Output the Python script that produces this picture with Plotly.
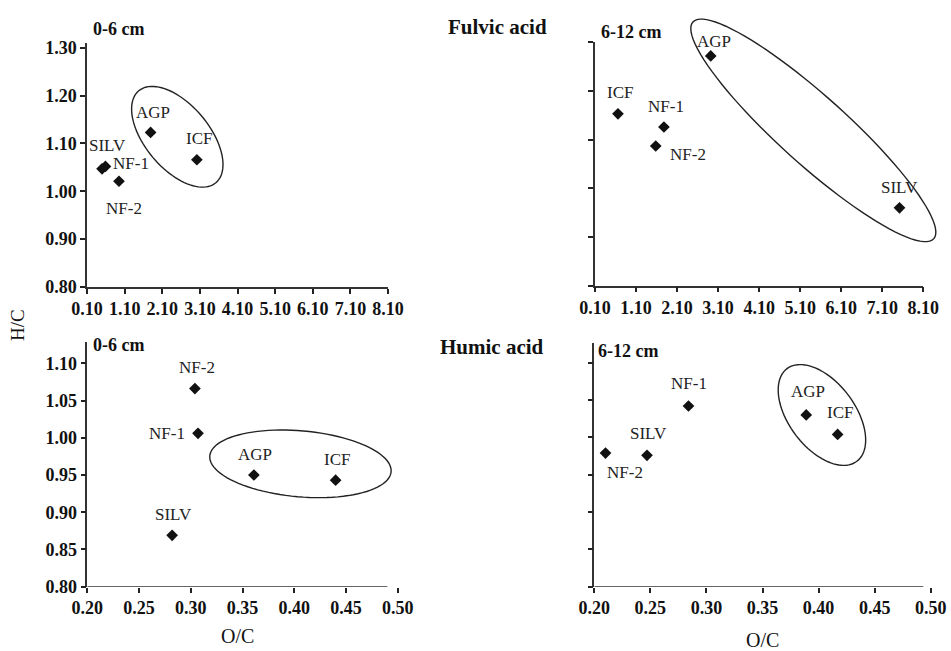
import math
import plotly.graph_objects as go

# ---------------- data ----------------
samples_fa06 = ["AGP", "ICF", "SILV", "NF-1", "NF-2"]
oc_fa06 = [1.79, 3.02, 0.50, 0.59, 0.95]
hc_fa06 = [1.123, 1.066, 1.047, 1.052, 1.021]

samples_fa612 = ["AGP", "ICF", "NF-1", "NF-2", "SILV"]
oc_fa612 = [2.92, 0.66, 1.78, 1.58, 7.52]
hc_fa612 = [1.272, 1.153, 1.126, 1.087, 0.960]

samples_ha06 = ["NF-2", "NF-1", "AGP", "ICF", "SILV"]
oc_ha06 = [0.304, 0.307, 0.361, 0.440, 0.282]
hc_ha06 = [1.066, 1.006, 0.950, 0.943, 0.869]

samples_ha612 = ["NF-1", "AGP", "ICF", "SILV", "NF-2"]
oc_ha612 = [0.284, 0.389, 0.417, 0.247, 0.210]
hc_ha612 = [1.042, 1.030, 1.004, 0.976, 0.979]

fa_xticks = [0.10, 1.10, 2.10, 3.10, 4.10, 5.10, 6.10, 7.10, 8.10]
fa_yticks = [0.80, 0.90, 1.00, 1.10, 1.20, 1.30]
ha_xticks = [0.20, 0.25, 0.30, 0.35, 0.40, 0.45, 0.50]
ha_yticks = [0.80, 0.85, 0.90, 0.95, 1.00, 1.05, 1.10]

# ---------------- layout geometry ----------------
# positions below are given in page pixels (body margin removed by post_script)
VW, VH = 951, 651
OFF = 0
W, H = VW - OFF, VH - OFF
FONT = "Liberation Serif"


def px2paper(px, py):
    return (px - OFF) / W, 1 - (py - OFF) / H


panels = {
    1: dict(xpx=(87, 388), xr=(0.10, 8.10), ypx=(43, 287), yr=(0.80, 1.31),
            xt=fa_xticks, yt=fa_yticks, ylabels=True, xline=True),
    2: dict(xpx=(595, 923.3), xr=(0.10, 8.10), ypx=(42.3, 285.7), yr=(0.80, 1.30),
            xt=fa_xticks, yt=fa_yticks, ylabels=False, xline=True),
    3: dict(xpx=(87.3, 397.7), xr=(0.20, 0.50), ypx=(342, 586.7), yr=(0.80, 1.1286),
            xt=ha_xticks, yt=ha_yticks, ylabels=True, xline=False, xend=0.490),
    4: dict(xpx=(594.3, 930.7), xr=(0.20, 0.50), ypx=(342.7, 586.7), yr=(0.80, 1.1268),
            xt=ha_xticks, yt=ha_yticks, ylabels=False, xline=False, xend=0.4934),
}

series = {
    1: (samples_fa06, oc_fa06, hc_fa06),
    2: (samples_fa612, oc_fa612, hc_fa612),
    3: (samples_ha06, oc_ha06, hc_ha06),
    4: (samples_ha612, oc_ha612, hc_ha612),
}

# label offsets in pixels (dx right, dy down)
label_offsets = {
    1: {"AGP": (2, -20), "ICF": (2, -21), "SILV": (5, -23), "NF-1": (26, -3), "NF-2": (5, 27)},
    2: {"AGP": (3, -14), "ICF": (2, -21), "NF-1": (2, -20), "NF-2": (32, 9), "SILV": (0, -20)},
    3: {"NF-2": (2, -21), "NF-1": (-31, 0), "AGP": (1, -20), "ICF": (1, -21), "SILV": (1, -21)},
    4: {"NF-1": (1, -23), "AGP": (2, -23), "ICF": (2, -22), "SILV": (1, -22), "NF-2": (19, 19)},
}

# grouping ellipses: centre in data units, semi-axes in px, rotation (deg, clockwise on screen)
ellipses = {
    1: dict(cx=2.50, cy=1.114, a=60, b=32, rot=50),
    2: dict(cx=5.42, cy=1.119, a=162, b=34, rot=42),
    3: dict(cx=0.406, cy=0.965, a=91, b=33, rot=5),
    4: dict(cx=0.403, cy=1.030, a=58, b=33, rot=53),
}


def d2px(p, x, y):
    g = panels[p]
    x0, x1 = g["xpx"]
    r0, r1 = g["xr"]
    yt, yb = g["ypx"]
    s0, s1 = g["yr"]
    px = x0 + (x - r0) / (r1 - r0) * (x1 - x0)
    py = yb - (y - s0) / (s1 - s0) * (yb - yt)
    return px, py


fig = go.Figure()

shapes = []
annotations = []

for p in range(1, 5):
    g = panels[p]
    sfx = "" if p == 1 else str(p)
    xa = "xaxis" + sfx
    ya = "yaxis" + sfx
    xref = "x" + sfx
    yref = "y" + sfx
    names, xs, ys = series[p]
    fig.add_trace(go.Scatter(
        x=xs, y=ys, mode="markers", xaxis=xref, yaxis=yref,
        marker=dict(symbol="diamond", size=9, color="#111111"),
        showlegend=False, hoverinfo="text", text=names,
        cliponaxis=False,
    ))
    xd0, _ = px2paper(g["xpx"][0], 0)
    xd1, _ = px2paper(g["xpx"][1], 0)
    _, yd1 = px2paper(0, g["ypx"][0])
    _, yd0 = px2paper(0, g["ypx"][1])
    fig.layout[xa] = dict(
        domain=[xd0, xd1], range=list(g["xr"]),
        anchor=yref, tickmode="array", tickvals=g["xt"],
        ticktext=["%.2f" % v for v in g["xt"]],
        tickangle=0, ticks="outside", ticklen=5, tickwidth=2, tickcolor="#222222",
        showline=g["xline"], linecolor="#333333", linewidth=1.5,
        showgrid=False, zeroline=False, automargin=False,
        tickfont=dict(family=FONT, size=18, color="#111111", weight="bold"),
    )
    fig.layout[ya] = dict(
        domain=[yd0, yd1], range=list(g["yr"]),
        anchor=xref, tickmode="array", tickvals=g["yt"],
        ticktext=[("%.2f" % v) if g["ylabels"] else "" for v in g["yt"]],
        ticks="outside", ticklen=5, tickwidth=2, tickcolor="#222222",
        showline=True, linecolor="#333333", linewidth=1.5,
        showgrid=False, zeroline=False, automargin=False,
        tickfont=dict(family=FONT, size=18, color="#111111", weight="bold"),
    )
    if not g["xline"]:
        shapes.append(dict(type="line", xref=xref, yref=yref,
                           x0=g["xr"][0], x1=g["xend"], y0=g["yr"][0], y1=g["yr"][0],
                           line=dict(color="#333333", width=1.5)))
    # point labels
    for n, xv, yv in zip(names, xs, ys):
        dx, dy = label_offsets[p][n]
        annotations.append(dict(
            x=xv, y=yv, xref=xref, yref=yref, text=n, showarrow=False,
            xshift=dx, yshift=-dy, xanchor="center", yanchor="middle",
            font=dict(family=FONT, size=17, color="#222222"),
        ))
    # ellipse
    e = ellipses[p]
    cpx, cpy = d2px(p, e["cx"], e["cy"])
    th = math.radians(e["rot"])
    pts = []
    for k in range(97):
        t = 2 * math.pi * k / 96
        ex = cpx + e["a"] * math.cos(t) * math.cos(th) - e["b"] * math.sin(t) * math.sin(th)
        ey = cpy + e["a"] * math.cos(t) * math.sin(th) + e["b"] * math.sin(t) * math.cos(th)
        pts.append(px2paper(ex, ey))
    path = "M " + " L ".join("%.5f,%.5f" % q for q in pts) + " Z"
    shapes.append(dict(type="path", xref="paper", yref="paper", path=path,
                       line=dict(color="#222222", width=1.4), fillcolor="rgba(0,0,0,0)"))


def paper_text(text, px, py, size, bold=False, xanchor="center", angle=0):
    x, y = px2paper(px, py)
    annotations.append(dict(
        x=x, y=y, xref="paper", yref="paper",
        text=("<b>%s</b>" % text) if bold else text, showarrow=False,
        xanchor=xanchor, yanchor="middle", textangle=angle,
        font=dict(family=FONT, size=size, color="#111111"),
    ))


paper_text("Fulvic acid", 497, 27, 21, bold=True)
paper_text("Humic acid", 492, 347, 21, bold=True)
paper_text("0-6 cm", 91, 29, 18, bold=True, xanchor="left")
paper_text("6-12 cm", 599, 32, 18, bold=True, xanchor="left")
paper_text("0-6 cm", 91, 345, 18, bold=True, xanchor="left")
paper_text("6-12 cm", 596, 351, 18, bold=True, xanchor="left")
paper_text("H/C", 17, 325, 19, angle=-90)
paper_text("O/C", 237, 636, 20)
paper_text("O/C", 762, 640, 20)

fig.update_layout(
    width=W, height=H, margin=dict(l=0, r=0, t=0, b=0, autoexpand=False),
    paper_bgcolor="white", plot_bgcolor="white",
    shapes=shapes, annotations=annotations, showlegend=False,
    font=dict(family=FONT), hovermode=False,
)

fig.write_html(
    "out.html",
    config={"displayModeBar": False},
    post_script="document.body.style.margin='0';document.body.style.overflow='hidden';",
)
